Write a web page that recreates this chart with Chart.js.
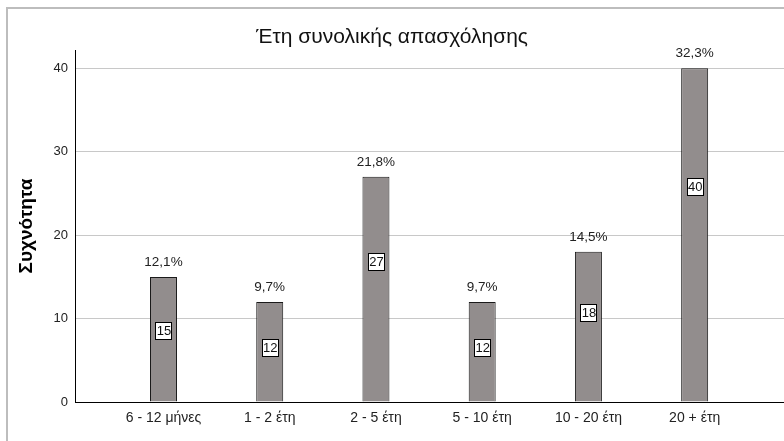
<!DOCTYPE html>
<html>
<head>
<meta charset="utf-8">
<script src="https://cdn.jsdelivr.net/npm/chart.js@4.4.1/dist/chart.umd.min.js"></script>
<style>
  html, body { margin: 0; padding: 0; background: #fff; overflow: hidden; }
  #wrap { position: relative; width: 784px; height: 441px; }
  #frame { position: absolute; left: 6px; top: 7px; width: 820px; height: 470px;
           border-left: 2px solid #bdbdbd; border-top: 2px solid #bdbdbd; }
  canvas { position: absolute; left: 0; top: 0; }
</style>
</head>
<body>
<div id="wrap">
  <div id="frame"></div>
  <canvas id="chart" width="784" height="441"></canvas>
</div>
<script>
// Years of total employment: frequency per band
const categories = ['6 - 12 μήνες', '1 - 2 έτη', '2 - 5 έτη', '5 - 10 έτη', '10 - 20 έτη', '20 + έτη'];
const counts = [15, 12, 27, 12, 18, 40];
const yTicks = [0, 10, 20, 30, 40];
const chartTitle = 'Έτη συνολικής απασχόλησης';
const yTitle = 'Συχνότητα';

const FONT = '"Liberation Sans", Arial, sans-serif';
const total = counts.reduce((a, b) => a + b, 0);
const percentLabels = counts.map(c => (c / total * 100).toFixed(1).replace('.', ',') + '%');

// Percentage above each bar and the boxed count inside it
const barLabels = {
  id: 'barLabels',
  afterDatasetsDraw(chart) {
    const ctx = chart.ctx;
    const meta = chart.getDatasetMeta(0);
    ctx.save();
    ctx.textAlign = 'center';
    ctx.textBaseline = 'middle';
    meta.data.forEach((bar, i) => {
      ctx.font = '13.5px ' + FONT;
      ctx.fillStyle = '#222';
      ctx.fillText(percentLabels[i], bar.x, bar.y - 15);

      const txt = String(counts[i]);
      const hgt = bar.base - bar.y;
      const cy = bar.base - (0.686 * hgt - 14);
      ctx.font = '13px ' + FONT;
      const w = Math.round(ctx.measureText(txt).width + 2);
      const h = 17;
      const bx = Math.round(bar.x - w / 2) + 0.5;
      const by = Math.round(cy - h / 2) + 0.5;
      ctx.fillStyle = '#fff';
      ctx.fillRect(bx, by, w, h);
      ctx.strokeStyle = '#000';
      ctx.lineWidth = 1;
      ctx.strokeRect(bx, by, w, h);
      ctx.fillStyle = '#111';
      ctx.fillText(txt, bar.x + 0.5, by + h / 2 + 0.5);
    });
    ctx.restore();
  }
};

new Chart(document.getElementById('chart'), {
  type: 'bar',
  data: {
    datasets: [{
      data: counts.map((v, i) => ({ x: i, y: v })),
      backgroundColor: '#928d8d',
      borderColor: '#1a1a1a',
      borderWidth: 1,
      barPercentage: 0.254,
      categoryPercentage: 1
    }]
  },
  options: {
    responsive: false,
    animation: false,
    devicePixelRatio: 1,
    layout: { padding: { left: 0, right: 0, top: 0, bottom: 0 } },
    plugins: {
      legend: { display: false },
      tooltip: { enabled: false },
      title: {
        display: true,
        text: chartTitle,
        color: '#111',
        font: { family: FONT, size: 21, weight: 'normal' },
        padding: { top: 24.4, bottom: 0.4 }
      }
    },
    scales: {
      x: {
        type: 'linear',
        offset: false,
        min: -0.833,
        max: 5.841,
        afterBuildTicks: s => { s.ticks = categories.map((_, i) => ({ value: i })); },
        afterFit: s => { s.height = 39; },
        grid: { display: false, drawTicks: false, offset: false },
        border: { display: true, color: '#000', width: 1 },
        ticks: {
          autoSkip: false,
          maxRotation: 0,
          padding: 8,
          color: '#222',
          font: { family: FONT, size: 14 },
          callback: v => categories[v]
        }
      },
      y: {
        min: 0,
        max: 42.2,
        afterBuildTicks: s => { s.ticks = yTicks.map(v => ({ value: v })); },
        afterFit: s => { s.width = 75; },
        grid: { color: '#c8c8c8', drawTicks: false },
        border: { display: true, color: '#000', width: 1 },
        ticks: {
          padding: 7,
          color: '#222',
          font: { family: FONT, size: 13 }
        },
        title: {
          display: true,
          text: yTitle,
          color: '#000',
          font: { family: FONT, size: 19, weight: 'bold' },
          padding: { top: 15.6, bottom: 0 }
        }
      }
    }
  },
  plugins: [barLabels]
});
</script>
</body>
</html>
